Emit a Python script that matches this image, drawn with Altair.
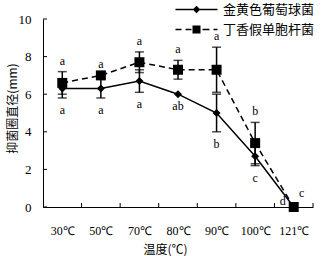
import altair as alt
import pandas as pd

temps = ["30℃", "50℃", "70℃", "80℃", "90℃", "100℃", "121℃"]
s1_name = "金黄色葡萄球菌"
s2_name = "丁香假单胞杆菌"
s1_mean = [6.3, 6.3, 6.7, 6.0, 5.0, 2.7, 0.0]
s1_err = [0.5, 0.5, 0.6, 0.0, 1.0, 0.5, 0.0]
s2_mean = [6.6, 7.0, 7.7, 7.3, 7.3, 3.4, 0.0]
s2_err = [0.6, 0.0, 0.55, 0.5, 1.2, 1.1, 0.0]
s1_letters = ["a", "a", "a", "ab", "b", "c", "d"]
s2_letters = ["a", "a", "a", "a", "a", "b", "c"]
y_ticks = [0, 2, 4, 6, 8, 10]

rows = []
for name, means, errs, lets in [(s1_name, s1_mean, s1_err, s1_letters),
                                (s2_name, s2_mean, s2_err, s2_letters)]:
    for i, (m, e, l) in enumerate(zip(means, errs, lets)):
        rows.append(dict(series=name, idx=i, x=i + 0.5, mean=m, err=e,
                         lo=m - e, hi=m + e, letter=l, last=(i == len(temps) - 1)))
df = pd.DataFrame(rows)
ncat = len(temps)
xticks_df = pd.DataFrame({"b": list(range(1, ncat + 1))})
yticks_df = pd.DataFrame({"v": y_ticks})

W, H = 270, 188
SERIF = "Liberation Serif"
CJK = "Noto Sans CJK SC"

label_expr = "[" + ",".join("'%s'" % t for t in temps) + "][floor(datum.value)]"

xscale = alt.Scale(domain=[0, ncat], nice=False, zero=False)
yscale = alt.Scale(domain=[0, 10], nice=False)

xaxis = alt.Axis(values=[i + 0.5 for i in range(ncat)], labelExpr=label_expr,
                 ticks=False, grid=False, labelPadding=18, labelFont=SERIF,
                 labelFontSize=12, labelColor="black", domainColor="black",
                 labelOverlap=False,
                 title="温度(℃)", titleFont=CJK, titleFontSize=12,
                 titleFontWeight="normal", titleColor="black",
                 titleX=122, titleY=42, titleBaseline="middle", titleAnchor="start",
                 titleAlign="center")
yaxis = alt.Axis(values=y_ticks, ticks=False, grid=False, labelPadding=12,
                 labelFont=SERIF, labelFontSize=13, labelColor="black",
                 labelOverlap=False, labelBound=False, labelFlush=False,
                 domainColor="black", title="抑菌圈直径(mm)", titleFont=CJK,
                 titleFontSize=12, titleFontWeight="normal", titleColor="black",
                 titleX=-31, titleY=89, titleBaseline="middle", titleAlign="center",
                 titleAngle=270)

X = lambda f: alt.X(f, scale=xscale, axis=xaxis)
Y = lambda f: alt.Y(f, scale=yscale, axis=yaxis)

base = alt.Chart(df)
s1 = base.transform_filter(alt.datum.series == s1_name)
s2 = base.transform_filter(alt.datum.series == s2_name)

line1 = s1.mark_line(color="black", strokeWidth=1.5).encode(x=X("x:Q"), y=Y("mean:Q"))
line2 = s2.mark_line(color="black", strokeWidth=1.5, strokeDash=[6, 4]).encode(
    x=X("x:Q"), y=Y("mean:Q"))

eb = base.transform_filter(alt.datum.err > 0)
err_rule = eb.mark_rule(color="black", strokeWidth=1.5).encode(
    x=X("x:Q"), y=Y("lo:Q"), y2="hi:Q")
caps = eb.transform_fold(["lo", "hi"], as_=["k", "cap"]).mark_tick(
    color="black", orient="horizontal", size=9, thickness=1.5).encode(
    x=X("x:Q"), y=Y("cap:Q"))

pts1 = s1.mark_point(shape="diamond", filled=True, size=64, color="black", opacity=1).encode(
    x=X("x:Q"), y=Y("mean:Q"))
pts2 = s2.mark_point(shape="square", filled=True, size=100, color="black", opacity=1).encode(
    x=X("x:Q"), y=Y("mean:Q"))

txt_kw = dict(font=SERIF, fontSize=12, color="black", baseline="middle", align="center")
lab2 = s2.transform_filter(~alt.datum.last).mark_text(dy=-11, **txt_kw).encode(
    x=X("x:Q"), y=Y("hi:Q"), text="letter:N")
lab2_end = s2.transform_filter(alt.datum.last).mark_text(dx=8, dy=-14, **txt_kw).encode(
    x=X("x:Q"), y=Y("hi:Q"), text="letter:N")
lab1 = s1.transform_filter(~alt.datum.last).mark_text(dy=12, **txt_kw).encode(
    x=X("x:Q"), y=Y("lo:Q"), text="letter:N")
lab1_end = s1.transform_filter(alt.datum.last).mark_text(dx=-11, dy=-6, **txt_kw).encode(
    x=X("x:Q"), y=Y("lo:Q"), text="letter:N")

xt = alt.Chart(xticks_df).mark_rule(color="black", strokeWidth=1).encode(
    x=X("b:Q"), y=alt.value(H), y2=alt.value(H - 4))
yt = alt.Chart(yticks_df).mark_rule(color="black", strokeWidth=1).encode(
    y=Y("v:Q"), x=alt.value(0), x2=alt.value(4))

# legend symbols as filled paths (line segments drawn as thin rectangles)
t = 0.15
def seg(a, b):
    return "M%.2f,%.2fH%.2fV%.2fH%.2fZ" % (a, -t, b, t, a)
path_solid = seg(-4.2, 4.2) + "M0,-0.75L0.75,0L0,0.75L-0.75,0Z"
path_dash = (seg(-4.2, -3.0) + seg(-2.2, -1.0) + "M-0.8,-0.8H0.8V0.8H-0.8Z"
             + seg(1.2, 2.6) + seg(3.4, 4.2))
legend_layer = base.transform_filter("false").mark_point(
    filled=True, color="black", opacity=1).encode(
    x=X("x:Q"), y=Y("mean:Q"),
    shape=alt.Shape("series:N",
                    scale=alt.Scale(domain=[s1_name, s2_name], range=[path_solid, path_dash]),
                    legend=alt.Legend(title=None, orient="none", legendX=147, legendY=-16,
                                      padding=0, symbolOffset=0, labelOffset=20,
                                      symbolSize=100, symbolFillColor="black",
                                      symbolStrokeWidth=0, symbolOpacity=1,
                                      labelFont=CJK, labelFontSize=13,
                                      labelColor="black", rowPadding=6)))

chart = alt.layer(line1, line2, err_rule, caps, pts1, pts2, lab2, lab2_end, lab1, lab1_end,
                  xt, yt, legend_layer).properties(
    width=W, height=H,
    autosize=alt.AutoSizeParams(type="none"),
    padding={"left": 43, "top": 19, "right": 9, "bottom": 49},
    background="white",
).configure_view(stroke=None)

chart.save("out.html", embed_options={"renderer": "svg", "actions": False})
